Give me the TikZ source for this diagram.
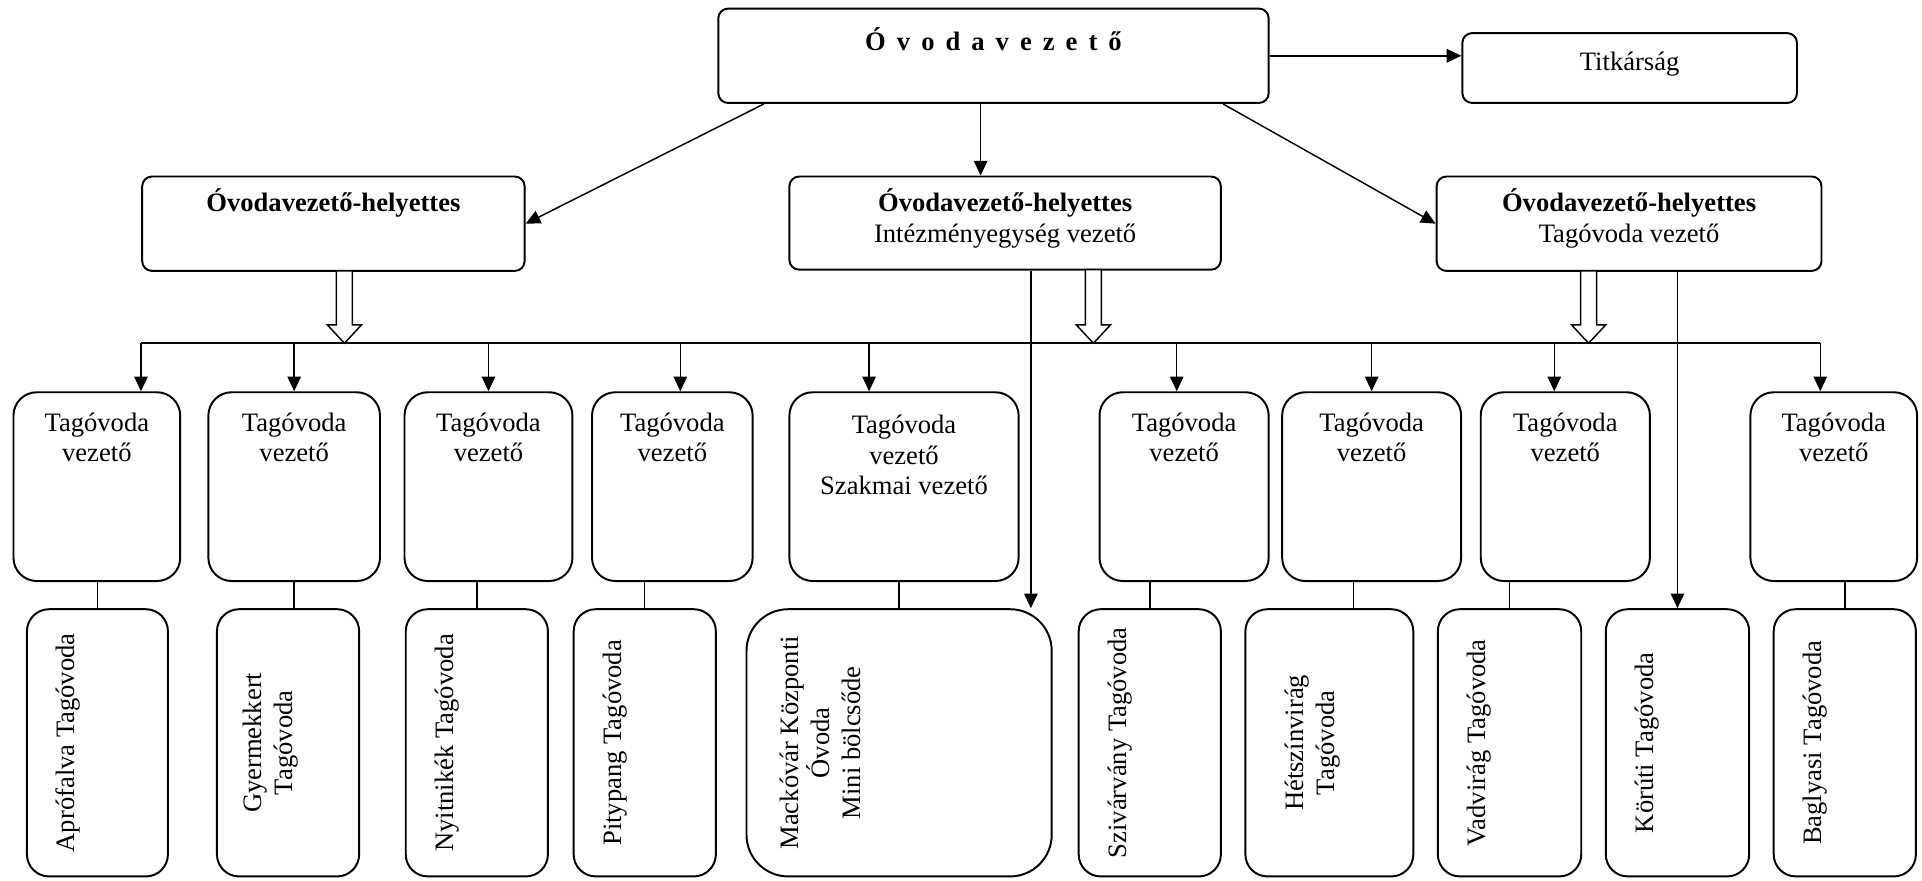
\documentclass[tikz,border=0pt]{standalone}
\usepackage{fontspec}
\setmainfont{Liberation Serif}
\usetikzlibrary{calc}
\usetikzlibrary{positioning}
\usetikzlibrary{arrows.meta}

\tikzset{
  doboz/.style={draw,line width=0.8pt,inner sep=0pt,rounded corners=4pt},
  szoveg/.style={inner sep=0pt,align=center,font=\fontsize{10.85}{12.5}\selectfont},
  cimsz/.style={inner sep=0pt,font=\fontsize{10.85}{12.5}\selectfont\bfseries},
  nyil/.style={line width=0.6pt,-{Triangle[length=6pt,width=5.5pt]}},
  vonal/.style={line width=0.6pt},
  ures/.style={draw,line width=0.6pt,fill=white},
}

\begin{document}
\begin{tikzpicture}[x=0.5pt,y=-0.5pt]
                \useasboundingbox (0,0) rectangle (1568,718);

                % vezetés
                \node[doboz,minimum width=224.5pt,minimum height=38.5pt] (vez) at (810.5,45.5) {};
                \node[doboz,minimum width=136.5pt,minimum height=28.5pt] (titk) at (1329.5,55.5) {};
                \node[doboz,minimum width=156pt,minimum height=38.5pt] (h1) at (272,182.5) {};
                \node[doboz,minimum width=176pt,minimum height=38pt] (h2) at (820,182) {};
                \node[doboz,minimum width=157pt,minimum height=38.5pt] (h3) at (1329,182.5) {};

                \node[cimsz,anchor=base] (vezt) at ($(vez.north)+(0,35)$) {\spaceskip=4.5pt Ó v o d a v e z e t ő};
                \node[szoveg,anchor=base] (titkt) at ($(titk.north)+(0,31)$) {Titkárság};
                \node[szoveg,anchor=north] (h1t) at ($(h1.north)+(0,10.5)$) {\textbf{Óvodavezető-helyettes}};
                \node[szoveg,anchor=north] (h2t) at ($(h2.north)+(0,10.5)$) {\textbf{Óvodavezető-helyettes}\\Intézményegység vezető};
                \node[szoveg,anchor=north] (h3t) at ($(h3.north)+(0,10.5)$) {\textbf{Óvodavezető-helyettes}\\Tagóvoda vezető};

                % tagóvoda vezetők
                \tikzset{doboz/.append style={rounded corners=9.5pt,minimum height=77pt}}
                \node[doboz,minimum width=68pt] (v1) at (79,397) {};
                \node[doboz,minimum width=70pt] (v2) at (240,397) {};
                \node[doboz,minimum width=68.5pt] (v3) at (398.5,397) {};
                \node[doboz,minimum width=65.5pt] (v4) at (548.5,397) {};
                \node[doboz,minimum width=93.5pt] (v5) at (737.5,397) {};
                \node[doboz,minimum width=69pt] (v6) at (966,397) {};
                \node[doboz,minimum width=73pt] (v7) at (1119,397) {};
                \node[doboz,minimum width=69pt] (v8) at (1277,397) {};
                \node[doboz,minimum width=68pt] (v9) at (1496,397) {};

                \node[szoveg,anchor=north] (v1t) at ($(v1.north)+(0,17)$) {Tagóvoda\\vezető};
                \node[szoveg,anchor=north] (v2t) at ($(v2.north)+(0,17)$) {Tagóvoda\\vezető};
                \node[szoveg,anchor=north] (v3t) at ($(v3.north)+(0,17)$) {Tagóvoda\\vezető};
                \node[szoveg,anchor=north] (v4t) at ($(v4.north)+(0,17)$) {Tagóvoda\\vezető};
                \node[szoveg,anchor=north] (v5t) at ($(v5.north)+(0,19)$) {Tagóvoda\\vezető\\Szakmai vezető};
                \node[szoveg,anchor=north] (v6t) at ($(v6.north)+(0,17)$) {Tagóvoda\\vezető};
                \node[szoveg,anchor=north] (v7t) at ($(v7.north)+(0,17)$) {Tagóvoda\\vezető};
                \node[szoveg,anchor=north] (v8t) at ($(v8.north)+(0,17)$) {Tagóvoda\\vezető};
                \node[szoveg,anchor=north] (v9t) at ($(v9.north)+(0,17)$) {Tagóvoda\\vezető};

                % tagóvodák
                \tikzset{doboz/.append style={rounded corners=9pt,minimum height=109pt}}
                \node[doboz,minimum width=57.5pt] (b1) at (79.5,606) {};
                \node[doboz,minimum width=58pt] (b2) at (235,606) {};
                \node[doboz,minimum width=58pt] (b3) at (389,606) {};
                \node[doboz,minimum width=58pt] (b4) at (526,606) {};
                \node[doboz,minimum width=124.5pt,rounded corners=17pt] (b5) at (733.5,606) {};
                \node[doboz,minimum width=58pt] (b6) at (938,606) {};
                \node[doboz,minimum width=68.5pt] (b7) at (1084.5,606) {};
                \node[doboz,minimum width=58.5pt] (b8) at (1231.5,606) {};
                \node[doboz,minimum width=58.5pt] (b9) at (1368.5,606) {};
                \node[doboz,minimum width=58pt] (b10) at (1505,606) {};

                \node[szoveg,rotate=90,anchor=north] (b1t) at ($(b1.west)+(24,0)$) {Aprófalva Tagóvoda};
                \node[szoveg,rotate=90,anchor=north] (b2t) at ($(b2.west)+(22,0)$) {Gyermekkert\\Tagóvoda};
                \node[szoveg,rotate=90,anchor=north] (b3t) at ($(b3.west)+(24,0)$) {Nyitnikék Tagóvoda};
                \node[szoveg,rotate=90,anchor=north] (b4t) at ($(b4.west)+(24,0)$) {Pitypang Tagóvoda};
                \node[szoveg,rotate=90,anchor=north] (b5t) at ($(b5.west)+(28,0)$) {Mackóvár Központi\\Óvoda\\Mini bölcsőde};
                \node[szoveg,rotate=90,anchor=north] (b6t) at ($(b6.west)+(24,0)$) {Szivárvány Tagóvoda};
                \node[szoveg,rotate=90,anchor=north] (b7t) at ($(b7.west)+(33,0)$) {Hétszínvirág\\Tagóvoda};
                \node[szoveg,rotate=90,anchor=north] (b8t) at ($(b8.west)+(24,0)$) {Vadvirág Tagóvoda};
                \node[szoveg,rotate=90,anchor=north] (b9t) at ($(b9.west)+(24,0)$) {Körúti Tagóvoda};
                \node[szoveg,rotate=90,anchor=north] (b10t) at ($(b10.west)+(24,0)$) {Baglyasi Tagóvoda};

                % nyilak a vezetőtől
                \coordinate (d2) at (800,84);
                \draw[nyil] (vez.east) -- (vez.east -| titk.west);
                \draw[nyil] ($(vez.south west)+(38,0)$) -- (h1.east);
                \draw[nyil] (d2) -- (d2 |- h2.north);
                \draw[nyil] ($(vez.south east)+(-38,0)$) -- (h3.west);

                % üres nyilak
                \coordinate (u1) at (281,280);
                \coordinate (u2) at (892,280);
                \coordinate (u3) at (1296,280);
                \draw[ures] (u1) -- ++(-14,-15) -- ++(7.5,0) -- ++(0,-44) -- ++(13,0) -- ++(0,44) -- ++(7.5,0) -- cycle;
                \draw[ures] (u2) -- ++(-14,-15) -- ++(7.5,0) -- ++(0,-45) -- ++(13,0) -- ++(0,45) -- ++(7.5,0) -- cycle;
                \draw[ures] (u3) -- ++(-14,-15) -- ++(7.5,0) -- ++(0,-44) -- ++(13,0) -- ++(0,44) -- ++(7.5,0) -- cycle;

                % gyűjtővonal
                \coordinate (sinB) at (115,280);
                \coordinate (sinJ) at (1485,280);
                \draw[vonal] (sinB) -- (sinJ);
                \draw[nyil] (sinB) -- (sinB |- v1.north);
                \draw[nyil] (v2.north |- sinB) -- (v2.north);
                \draw[nyil] (v3.north |- sinB) -- (v3.north);
                \draw[nyil] (sinB -| 555,0) -- (v4.north -| 555,0);
                \draw[nyil] (sinB -| 709,0) -- (v5.north -| 709,0);
                \draw[nyil] (sinB -| 960,0) -- (v6.north -| 960,0);
                \draw[nyil] (v7.north |- sinB) -- (v7.north);
                \draw[nyil] (sinB -| 1268,0) -- (v8.north -| 1268,0);
                \draw[nyil] (sinJ) -- (sinJ |- v9.north);

                % közvetlen irányítás
                \draw[nyil] (h2.south -| 841,0) -- (b5.north -| 841,0);
                \draw[nyil] (h3.south -| b9.north) -- (b9.north);

                % összekötők
                \draw[vonal] (b1.north) -- (b1.north |- v1.south);
                \draw[vonal] (v2.south) -- (v2.south |- b2.north);
                \draw[vonal] (b3.north) -- (b3.north |- v3.south);
                \draw[vonal] (b4.north) -- (b4.north |- v4.south);
                \draw[vonal] (b5.north) -- (b5.north |- v5.south);
                \draw[vonal] (b6.north) -- (b6.north |- v6.south);
                \draw[vonal] (b7.north -| 1104,0) -- (v7.south -| 1104,0);
                \draw[vonal] (b8.north) -- (b8.north |- v8.south);
                \draw[vonal] (b10.north) -- (b10.north |- v9.south);

            \end{tikzpicture}
\end{document}
